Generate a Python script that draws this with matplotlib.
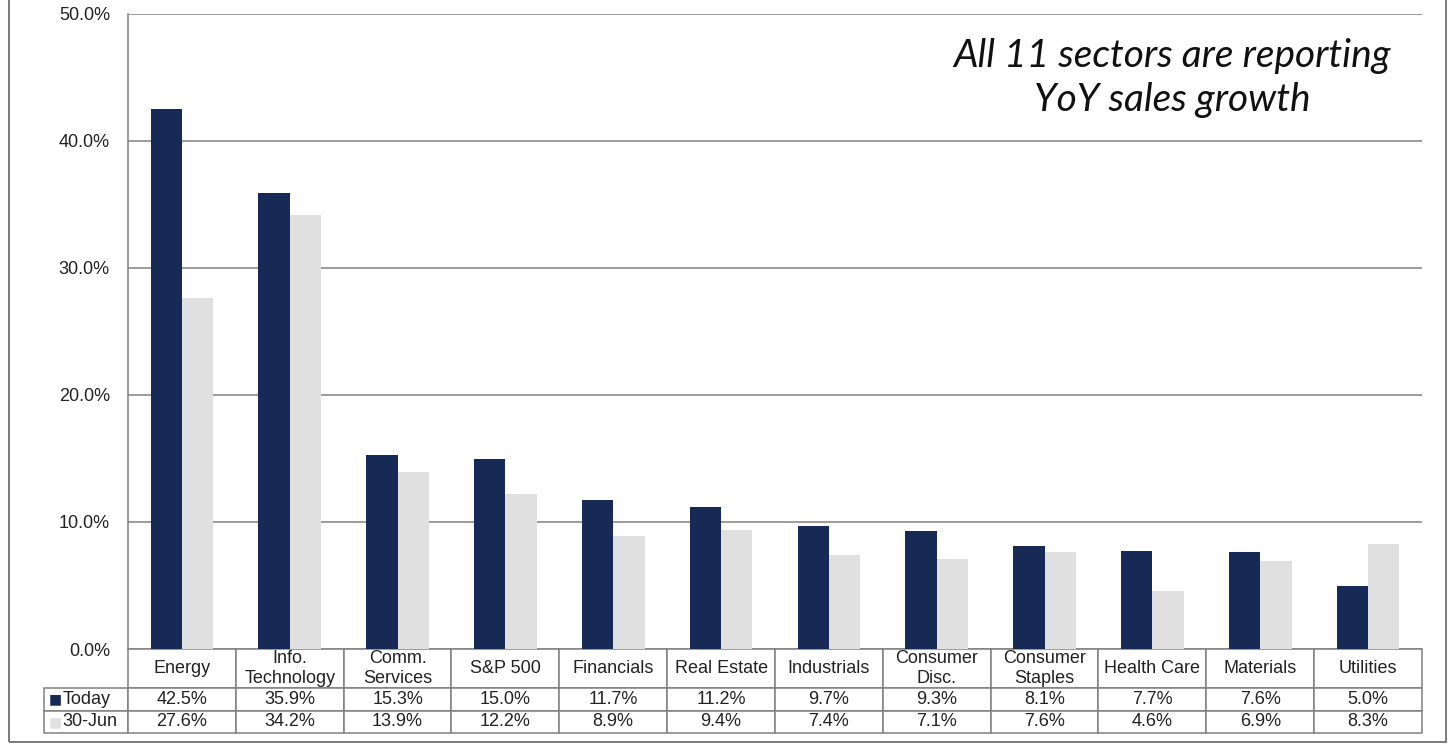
import matplotlib
matplotlib.use("Agg")
import matplotlib.pyplot as plt
import numpy as np
from matplotlib.patches import Rectangle

plt.rcParams["font.family"] = ["Liberation Sans", "DejaVu Sans"]

# --- data -------------------------------------------------------------------
SECTORS = ["Energy", "Info.\nTechnology", "Comm.\nServices", "S&P 500",
           "Financials", "Real Estate", "Industrials", "Consumer\nDisc.",
           "Consumer\nStaples", "Health Care", "Materials", "Utilities"]
TODAY = [42.5, 35.9, 15.3, 15.0, 11.7, 11.2, 9.7, 9.3, 8.1, 7.7, 7.6, 5.0]
JUN30 = [27.6, 34.2, 13.9, 12.2, 8.9, 9.4, 7.4, 7.1, 7.6, 4.6, 6.9, 8.3]
SERIES = ["Today", "30-Jun"]
YTICKS = [0, 10, 20, 30, 40, 50]

NAVY = "#172A55"
LIGHT = "#E0E0E0"
GRID = "#808080"
TXT = "#222222"
FS = 13

W, H = 1456, 745
fig = plt.figure(figsize=(W / 100, H / 100), dpi=100)

# plot area in pixels: x 128..1422, y 14..649 (from top)
L, R, T, B = 128, 1422, 14, 649
AW, AH = R - L, B - T
ax = fig.add_axes([L / W, 1 - B / H, AW / W, AH / H])

x = np.arange(len(SECTORS))
bw = 0.29
ax.bar(x - bw / 2, TODAY, bw, color=NAVY, zorder=3)
ax.bar(x + bw / 2, JUN30, bw, color=LIGHT, zorder=3)

ax.set_xlim(-0.5, len(SECTORS) - 0.5)
ax.set_ylim(0, 50)
ax.set_yticks(YTICKS)
ax.set_yticklabels([f"{v:.1f}%" for v in YTICKS])
ax.set_xticks([])
ax.tick_params(axis="y", length=0, pad=13, labelsize=FS, labelcolor=TXT)
ax.yaxis.grid(True, color=GRID, linewidth=1.1, zorder=0)
for s in ["top", "right", "bottom"]:
    ax.spines[s].set_visible(False)
ax.spines["left"].set_color(GRID)
ax.spines["left"].set_linewidth(1.1)

# --- data table under the bars ---------------------------------------------
# cell sizes given in axes fractions so the bbox scaling stays ~1
hdr_h, row_h, lab_w = 39 / AH, 22.5 / AH, 84 / AW
cell_text = [[f"{v:.1f}%" for v in TODAY], [f"{v:.1f}%" for v in JUN30]]
tbl = ax.table(cellText=cell_text, rowLabels=SERIES,
               colLabels=SECTORS, cellLoc="center", rowLoc="left",
               colLoc="center",
               bbox=[0, -(hdr_h + 2 * row_h), 1, hdr_h + 2 * row_h])
# keep the row-label column at a fixed width instead of fitting the text
tbl._autoColumns = [c for c in tbl._autoColumns if c != -1]
tbl.auto_set_font_size(False)
tbl.set_fontsize(FS)
for (r, c), cell in tbl.get_celld().items():
    cell.set_edgecolor(GRID)
    cell.set_linewidth(1.1)
    cell.set_height(hdr_h if r == 0 else row_h)
    cell.set_width(lab_w if c == -1 else 1 / len(SECTORS))
    cell.get_text().set_color(TXT)
    if c == -1:
        cell.PAD = 0.22

# colored series keys in the row-label cells
for i, col in enumerate([NAVY, LIGHT]):
    fig.text(49 / W, 1 - (699.5 + i * 22.5) / H, "■", color=col, fontsize=10,
             ha="left", va="center", family="DejaVu Sans")

# annotation
ax.text(1172 / W, 1 - 78 / H, "All 11 sectors are reporting\nYoY sales growth",
        transform=fig.transFigure, ha="center", va="center", fontsize=28,
        style="italic", family=["Lato", "DejaVu Sans"], linespacing=1.25,
        color="#111111")

# outer frame (top edge cropped out in the original)
fig.add_artist(Rectangle((9 / W, 3 / H), (1446 - 9) / W, 1.2,
                         transform=fig.transFigure, fill=False,
                         edgecolor="#707070", linewidth=1.3))

fig.savefig("out.png", dpi=100)
